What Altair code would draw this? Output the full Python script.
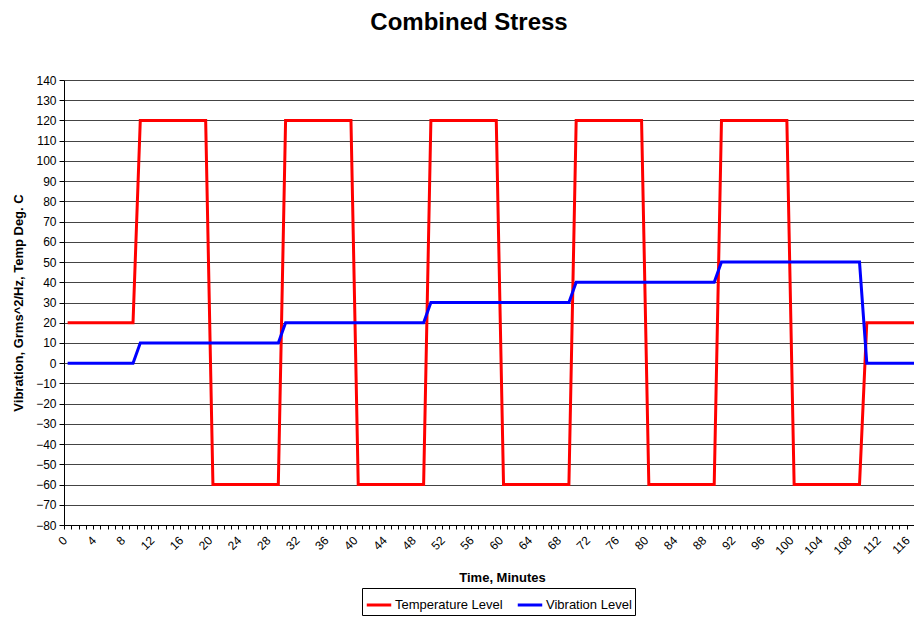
import altair as alt
import pandas as pd

# Minutes (category positions on the x axis)
minutes = list(range(0, 118))

temperature = [
    20, 20, 20, 20, 20, 20, 20, 20, 20, 20,
    120, 120, 120, 120, 120, 120, 120, 120, 120, 120,
    -60, -60, -60, -60, -60, -60, -60, -60, -60, -60,
    120, 120, 120, 120, 120, 120, 120, 120, 120, 120,
    -60, -60, -60, -60, -60, -60, -60, -60, -60, -60,
    120, 120, 120, 120, 120, 120, 120, 120, 120, 120,
    -60, -60, -60, -60, -60, -60, -60, -60, -60, -60,
    120, 120, 120, 120, 120, 120, 120, 120, 120, 120,
    -60, -60, -60, -60, -60, -60, -60, -60, -60, -60,
    120, 120, 120, 120, 120, 120, 120, 120, 120, 120,
    -60, -60, -60, -60, -60, -60, -60, -60, -60, -60,
    20, 20, 20, 20, 20, 20, 20, 20,
]

vibration = [
    0, 0, 0, 0, 0, 0, 0, 0, 0, 0,
    10, 10, 10, 10, 10, 10, 10, 10, 10, 10,
    10, 10, 10, 10, 10, 10, 10, 10, 10, 10,
    20, 20, 20, 20, 20, 20, 20, 20, 20, 20,
    20, 20, 20, 20, 20, 20, 20, 20, 20, 20,
    30, 30, 30, 30, 30, 30, 30, 30, 30, 30,
    30, 30, 30, 30, 30, 30, 30, 30, 30, 30,
    40, 40, 40, 40, 40, 40, 40, 40, 40, 40,
    40, 40, 40, 40, 40, 40, 40, 40, 40, 40,
    50, 50, 50, 50, 50, 50, 50, 50, 50, 50,
    50, 50, 50, 50, 50, 50, 50, 50, 50, 50,
    0, 0, 0, 0, 0, 0, 0, 0,
]

series_names = ["Temperature Level", "Vibration Level"]
series_colors = ["#FF0000", "#0000FF"]

df = pd.concat([
    pd.DataFrame({"minute": minutes, "value": temperature, "series": series_names[0]}),
    pd.DataFrame({"minute": minutes, "value": vibration, "series": series_names[1]}),
])

FONT = "Liberation Sans"
PLOT_W = 850
PLOT_H = 445
x_lo, x_hi = -0.5, 116.5
px_per_unit = PLOT_W / (x_hi - x_lo)

tick_positions = [i - 0.5 for i in range(0, 118)]
y_ticks = list(range(-80, 141, 10))

chart = alt.Chart(df).mark_line(strokeWidth=3, clip=True).encode(
    x=alt.X(
        "minute:Q",
        scale=alt.Scale(domain=[x_lo, x_hi], nice=False, zero=False),
        axis=alt.Axis(
            title="Time, Minutes",
            values=tick_positions,
            labelExpr="(datum.value + 0.5) % 4 == 0 ? format(datum.value + 0.5, 'd') : ''",
            labelAngle=-45,
            labelAlign="right",
            labelBaseline="middle",
            labelOffset=px_per_unit / 2 - 3,
            labelOverlap=False,
            labelFlush=False,
            labelFont=FONT,
            labelFontSize=12,
            labelColor="black",
            labelPadding=9,
            tickSize=4,
            tickColor="black",
            domainColor="black",
            grid=False,
            titleFont=FONT,
            titleFontSize=13,
            titleFontWeight="bold",
            titleColor="black",
            titlePadding=15,
            titleX=438,
        ),
    ),
    y=alt.Y(
        "value:Q",
        scale=alt.Scale(domain=[-80, 140], nice=False, zero=False),
        axis=alt.Axis(
            title="Vibration, Grms^2/Hz, Temp Deg. C",
            values=y_ticks,
            format="d",
            labelFont=FONT,
            labelFontSize=12,
            labelColor="black",
            labelPadding=3,
            tickSize=5,
            tickColor="black",
            domainColor="black",
            grid=True,
            gridColor="#444444",
            gridWidth=1,
            titleFont=FONT,
            titleFontSize=13,
            titleFontWeight="bold",
            titleColor="black",
            titlePadding=10,
        ),
    ),
    color=alt.Color(
        "series:N",
        scale=alt.Scale(domain=series_names, range=series_colors),
        legend=alt.Legend(
            title=None,
            orient="none",
            legendX=298,
            legendY=508,
            direction="horizontal",
            symbolType="stroke",
            symbolStrokeWidth=3,
            symbolSize=600,
            labelFont=FONT,
            labelFontSize=13,
            labelColor="black",
            labelOffset=2,
            columnPadding=8,
            padding=3,
            strokeColor="black",
            fillColor="white",
        ),
    ),
).properties(
    width=PLOT_W,
    height=PLOT_H,
    title=alt.TitleParams(
        text="Combined Stress",
        font=FONT,
        fontSize=24,
        fontWeight="bold",
        color="black",
        anchor="middle",
        offset=39,
        dx=-20,
    ),
    autosize=alt.AutoSizeParams(type="none"),
    padding={"left": 56, "top": 72, "right": 0, "bottom": 91},
).configure_view(
    strokeWidth=0,
)

chart.save("out.html", embed_options={"renderer": "svg", "actions": False})
